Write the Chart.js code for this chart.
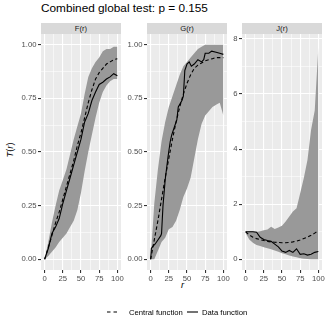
<!DOCTYPE html>
<html><head><meta charset="utf-8">
<script src="https://cdn.jsdelivr.net/npm/chart.js@4"></script>
<style>
html,body{margin:0;padding:0;width:327px;height:327px;overflow:hidden;background:#fff;font-family:"Liberation Sans",Arial,sans-serif;}
.abs{position:absolute;}
.strip{position:absolute;background:#D9D9D9;color:#1A1A1A;font-size:7.7px;text-align:center;line-height:11px;height:11px;width:80px;top:23px;}
canvas{display:block;}
</style></head><body>
<script>
// ---------- data ----------
const title = "Combined global test: p = 0.155";
const panelNames = ["F(r)", "G(r)", "J(r)"];
const xTickLabels = [0, 25, 50, 75, 100];
const yTicksFG = [0, 0.25, 0.5, 0.75, 1];
const yTicksJ = [0, 2, 4, 6, 8];
const rGrid = [0,5,10,15,20,25,30,35,40,45,50,55,60,65,70,75,80,85,90,95,100];

const fHi   = [0,0.08,0.17,0.25,0.32,0.37,0.42,0.49,0.56,0.62,0.68,0.77,0.85,0.89,0.92,0.94,0.97,0.98,0.98,0.99,0.99];
const fLo   = [0,0.015,0.035,0.055,0.08,0.10,0.12,0.15,0.18,0.23,0.31,0.41,0.50,0.58,0.66,0.73,0.78,0.81,0.83,0.84,0.84];
const fTheo = [0,0.055,0.11,0.17,0.22,0.28,0.34,0.40,0.46,0.53,0.59,0.66,0.73,0.79,0.84,0.87,0.89,0.91,0.92,0.93,0.935];
const fObs  = [0,0.05,0.12,0.15,0.19,0.26,0.32,0.38,0.44,0.50,0.56,0.64,0.68,0.74,0.78,0.815,0.825,0.84,0.85,0.865,0.855];

const gHi   = [0,0.26,0.42,0.55,0.64,0.71,0.76,0.81,0.86,0.90,0.92,0.94,0.96,0.98,0.99,1,1,1,1,1,1];
const gLo   = [0,0,0.04,0.08,0.10,0.14,0.15,0.18,0.23,0.29,0.33,0.38,0.47,0.56,0.63,0.67,0.69,0.71,0.72,0.73,0.67];
const gTheo = [0,0.09,0.18,0.28,0.38,0.47,0.56,0.64,0.71,0.77,0.82,0.86,0.89,0.905,0.915,0.925,0.93,0.935,0.94,0.94,0.94];
const gObsR = [0,1,3,6,10,14,15,17,20,24,27,29,33,36,38,43,45,47,50,53,56,60,65,70,73,75,80,84,90,95,100];
const gObs  = [0,0.05,0.06,0.07,0.09,0.11,0.12,0.25,0.37,0.48,0.55,0.58,0.62,0.65,0.71,0.74,0.76,0.88,0.91,0.92,0.90,0.91,0.93,0.92,0.93,0.96,0.96,0.97,0.965,0.96,0.955];

const jHi   = [1.0,1.02,1.02,1.0,1.02,1.05,1.08,1.18,1.10,1.15,1.22,1.37,1.55,1.73,1.85,2.4,2.95,3.6,4.7,5.4,7.7];
const jLo   = [0.95,0.72,0.60,0.52,0.48,0.44,0.40,0.36,0.32,0.27,0.22,0.18,0.14,0.10,0.07,0.04,0.02,0.01,0,0,0];
const jTheo = [1.0,0.88,0.80,0.75,0.71,0.68,0.65,0.63,0.62,0.61,0.60,0.60,0.61,0.63,0.66,0.70,0.75,0.80,0.87,0.95,1.03];
const jObs  = [1.0,1.0,1.0,0.98,0.80,0.72,0.68,0.65,0.55,0.45,0.30,0.25,0.32,0.25,0.38,0.18,0.20,0.15,0.18,0.25,0.28];

const legendLabels = ["Central function", "Data function"];
// ---------- layout ----------
const FONT = "'Liberation Sans', Arial, sans-serif";
const PW = 80, PH = 236, PTOP = 34;
const panelLefts = [41, 147, 242];
const YAX = 32;

function addDiv(html, style, cls){ const d=document.createElement('div'); d.className=cls||'abs'; d.innerHTML=html; Object.assign(d.style,style); document.body.appendChild(d); return d; }

addDiv(title, {left:'41px', top:'1px', fontSize:'11.8px', color:'#000', whiteSpace:'nowrap'});
addDiv('<i>T</i>(<i>r</i>)', {left:'2px', top:'145px', fontSize:'9.3px', color:'#000', transform:'rotate(-90deg)', whiteSpace:'nowrap'});
addDiv('<i>r</i>', {left:'181px', top:'280px', fontSize:'9.3px', color:'#000'});

function pts(xs, ys){ return xs.map((x,i)=>({x:x, y:ys[i]})); }

function makePanel(idx, hi, lo, theo, obsR, obs, ymin, ymax, majorsY, minorsY, fmt){
  const left = panelLefts[idx];
  addDiv(panelNames[idx], {left:left+'px'}, 'strip');
  const wrap = document.createElement('div');
  wrap.className='abs';
  const W = YAX + PW + 12, H = 7 + PH + 22;
  Object.assign(wrap.style,{left:(left-YAX)+'px', top:(PTOP-7)+'px', width:W+'px', height:H+'px'});
  const cv = document.createElement('canvas'); cv.width=W; cv.height=H; cv.style.width=W+'px'; cv.style.height=H+'px';
  wrap.appendChild(cv); document.body.appendChild(wrap);
  const xMaj = xTickLabels, xMin = [12.5,37.5,62.5,87.5];
  const xAll = xMaj.concat(xMin).sort((a,b)=>a-b);
  const yAll = majorsY.concat(minorsY).sort((a,b)=>a-b);
  const isMajX = v => xMaj.includes(v), isMajY = v => majorsY.includes(v);
  new Chart(cv, {
    type:'line',
    data:{datasets:[
      {data:pts(rGrid,hi), borderWidth:0, pointRadius:0, fill:'+1', backgroundColor:'#999999', tension:0},
      {data:pts(rGrid,lo), borderWidth:0, pointRadius:0, fill:false, tension:0},
      {data:pts(rGrid,theo), borderColor:'#000', borderWidth:1.1, borderDash:[3.5,2.5], pointRadius:0, fill:false, tension:0},
      {data:pts(obsR,obs), borderColor:'#000', borderWidth:1.1, pointRadius:0, fill:false, tension:0}
    ]},
    options:{
      animation:false, responsive:false, devicePixelRatio:1,
      layout:{padding:{top:7,right:12,left:0,bottom:0}},
      plugins:{legend:{display:false}, tooltip:{enabled:false}, filler:{drawTime:'beforeDatasetsDraw'}},
      scales:{
        x:{type:'linear', min:-5, max:105,
          afterBuildTicks:s=>{s.ticks=xAll.map(v=>({value:v}));},
          afterFit:s=>{s.height=22;},
          border:{display:false},
          grid:{color:'#FFFFFF', lineWidth:c=>isMajX(c.tick.value)?1.1:0.55, drawTicks:true, tickLength:3,
                tickColor:c=>isMajX(c.tick.value)?'#333333':'rgba(0,0,0,0)'},
          ticks:{autoSkip:false, maxRotation:0, color:'#4D4D4D', font:{family:FONT,size:7.7}, padding:1,
                 callback:v=>isMajX(v)?String(v):''}
        },
        y:{type:'linear', min:ymin, max:ymax,
          afterBuildTicks:s=>{s.ticks=yAll.map(v=>({value:v}));},
          afterFit:s=>{s.width=YAX;},
          border:{display:false},
          grid:{color:'#FFFFFF', lineWidth:c=>isMajY(c.tick.value)?1.1:0.55, drawTicks:true, tickLength:3,
                tickColor:c=>isMajY(c.tick.value)?'#333333':'rgba(0,0,0,0)'},
          ticks:{autoSkip:false, color:'#4D4D4D', font:{family:FONT,size:7.7}, padding:1.5,
                 callback:v=>isMajY(v)?fmt(v):''}
        }
      }
    },
    plugins:[{id:'bg', beforeDraw(ch){const a=ch.chartArea,c=ch.ctx;c.save();c.fillStyle='#EBEBEB';c.fillRect(a.left,a.top,a.right-a.left,a.bottom-a.top);c.restore();}}]
  });
}
makePanel(0, fHi, fLo, fTheo, rGrid, fObs, -0.05, 1.05, yTicksFG, [0.125,0.375,0.625,0.875], v=>v.toFixed(2));
makePanel(1, gHi, gLo, gTheo, gObsR, gObs, -0.05, 1.05, yTicksFG, [0.125,0.375,0.625,0.875], v=>v.toFixed(2));
makePanel(2, jHi, jLo, jTheo, rGrid, jObs, -0.39, 8.18, yTicksJ, [1,3,5,7], v=>String(v));

// legend
const lg = document.createElement('canvas'); lg.width=327; lg.height=20;
Object.assign(lg.style,{position:'absolute',left:'0px',top:'302px'});
document.body.appendChild(lg);
const lc = lg.getContext('2d');
lc.strokeStyle='#000'; lc.lineWidth=1.1;
lc.setLineDash([3.5,3]); lc.beginPath(); lc.moveTo(107,10); lc.lineTo(118,10); lc.stroke();
lc.setLineDash([]); lc.beginPath(); lc.moveTo(187,10); lc.lineTo(198,10); lc.stroke();
lc.fillStyle='#000'; lc.font='7.7px '+FONT; lc.textBaseline='middle';
lc.fillText(legendLabels[0],129,10.5); lc.fillText(legendLabels[1],202,10.5);
</script>
</body></html>
